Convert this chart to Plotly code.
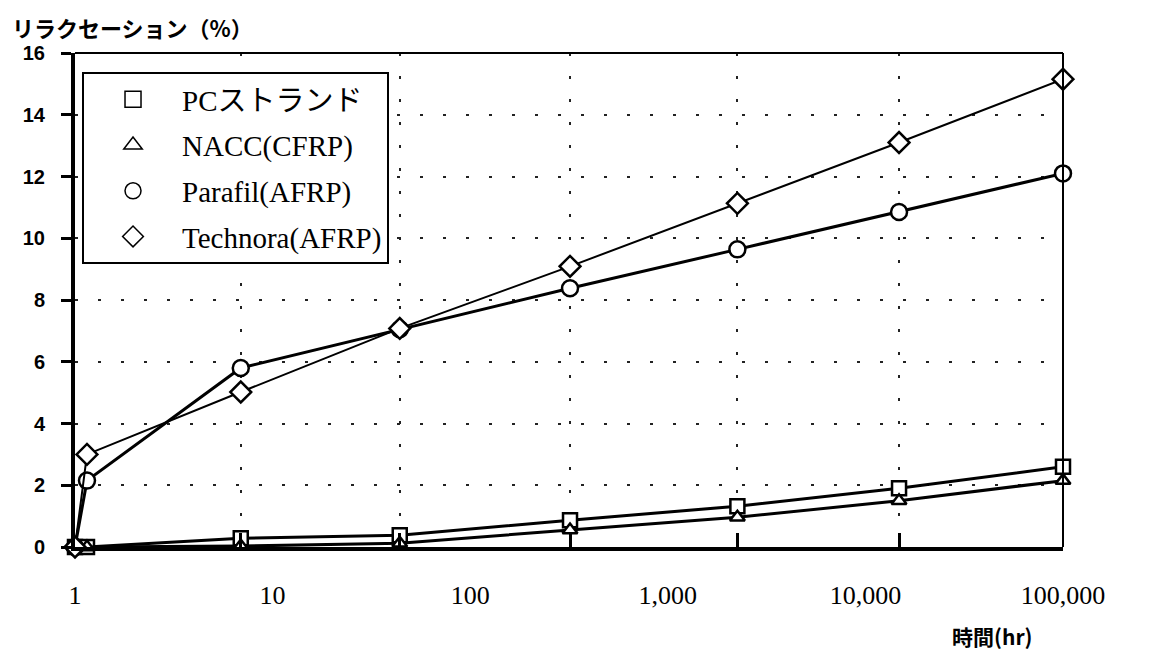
import plotly.graph_objects as go

# ---- data ----
hours = [1, 1.15, 6.9, 44, 320, 2250, 14800, 100000]
grid_hours = [6.9, 44, 320, 2250, 14800, 100000]
pc_strand = [0, 0, 0.28, 0.38, 0.87, 1.32, 1.9, 2.6]
nacc = [0, 0, 0.03, 0.12, 0.55, 0.96, 1.5, 2.15]
parafil = [0, 2.15, 5.8, 7.05, 8.38, 9.64, 10.85, 12.1]
technora = [0, 3.0, 5.02, 7.08, 9.09, 11.13, 13.1, 15.15]

series_names = ["PCストランド", "NACC(CFRP)", "Parafil(AFRP)", "Technora(AFRP)"]
series_values = [pc_strand, nacc, parafil, technora]
symbols = ["square", "triangle-up", "circle", "diamond"]
marker_sizes = [14, 13, 16, 16]
line_widths = [3, 3, 3, 2]

x_tick_values = [1, 10, 100, 1000, 10000, 100000]
x_tick_labels = ["1", "10", "100", "1,000", "10,000", "100,000"]
y_tick_values = [0, 2, 4, 6, 8, 10, 12, 14, 16]

y_title = "リラクセーション（%）"
x_title = "時間(hr)"

SERIF = "Liberation Serif, Noto Sans CJK JP, serif"
SANS = "Liberation Sans, Noto Sans CJK JP, sans-serif"
CJK = "Noto Sans CJK JP, Liberation Sans, sans-serif"
DOTS = "3px,20px"

fig = go.Figure()

for name, vals, sym, ms, lw in zip(series_names, series_values, symbols, marker_sizes, line_widths):
    fig.add_trace(go.Scatter(
        x=hours, y=vals, mode="lines+markers", name=name, showlegend=False,
        line=dict(color="black", width=lw),
        marker=dict(symbol=sym, size=ms, color="white",
                    line=dict(color="black", width=2.5)),
        cliponaxis=False, xaxis="x", yaxis="y",
    ))

for i, (name, sym) in enumerate(zip(series_names, symbols)):
    fig.add_trace(go.Scatter(
        x=[None], y=[None], mode="markers", name=name, legendgroup=f"g{i}",
        marker=dict(symbol=sym, size=16, color="white",
                    line=dict(color="black", width=1.5)),
        xaxis="x2", yaxis="y",
    ))

fig.update_layout(
    width=1159, height=649,
    margin=dict(l=67, r=104, t=45, b=110),
    paper_bgcolor="white", plot_bgcolor="white",
    showlegend=True,
    legend=dict(
        x=0.0071, y=0.9615, xanchor="left", yanchor="top",
        bgcolor="white", bordercolor="black", borderwidth=2,
        font=dict(family=SERIF, size=29, color="black"),
        itemwidth=88, tracegroupgap=5, traceorder="grouped",
    ),
    xaxis=dict(
        type="log", range=[0, 5],
        showline=True, linewidth=4, linecolor="black",
        ticks="", tickvals=x_tick_values, ticktext=x_tick_labels,
        tickfont=dict(family=SERIF, size=26, color="black"),
        ticklabelstandoff=22,
        showgrid=False, zeroline=False,
    ),
    xaxis2=dict(
        type="log", range=[0, 5], overlaying="x", anchor="y", side="bottom",
        showline=False, ticks="inside", ticklen=14, tickwidth=3, tickcolor="black",
        tickvals=grid_hours, showticklabels=False,
        showgrid=True, gridcolor="#222", gridwidth=2, griddash=DOTS,
        zeroline=False,
    ),
    yaxis=dict(
        range=[0, 16],
        showline=True, linewidth=4, linecolor="black",
        ticks="outside", ticklen=10, tickwidth=3, tickcolor="black",
        tickvals=y_tick_values,
        tickfont=dict(family=SANS, size=20, color="black", weight="bold"),
        ticklabelstandoff=12,
        showgrid=True, gridcolor="#222", gridwidth=2, griddash=DOTS,
        zeroline=False,
    ),
    shapes=[
        dict(type="line", xref="paper", yref="paper", x0=0, x1=1, y0=1, y1=1,
             line=dict(color="black", width=2)),
        dict(type="line", xref="paper", yref="paper", x0=1, x1=1, y0=0, y1=1,
             line=dict(color="black", width=2)),
    ],
    annotations=[
        dict(text=y_title, xref="paper", yref="paper", x=-0.0655, y=1.089,
             xanchor="left", yanchor="top", showarrow=False,
             font=dict(family=CJK, size=22, color="black", weight="bold")),
        dict(text=x_title, xref="paper", yref="paper", x=0.9706, y=-0.18,
             xanchor="right", yanchor="middle", showarrow=False,
             font=dict(family=CJK, size=21, color="black", weight="bold")),
    ],
)

fig.write_html("out.html")
